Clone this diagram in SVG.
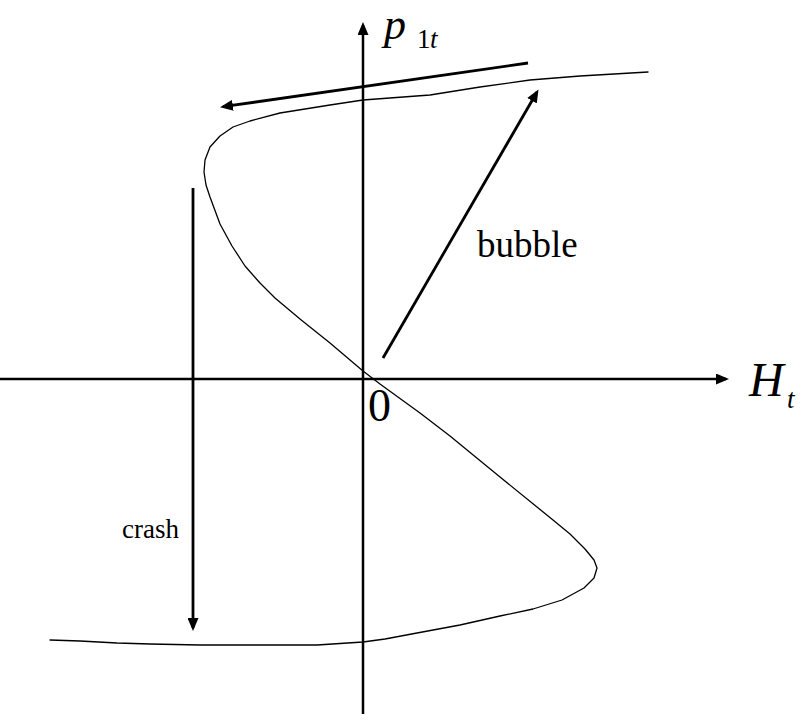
<svg xmlns="http://www.w3.org/2000/svg" width="803" height="720" viewBox="0 0 803 720">
  <style>
    .ax { stroke: #000; stroke-width: 2.5; fill: none; }
    .arr { stroke: #000; stroke-width: 2.8; fill: none; }
    .curve { stroke: #000; stroke-width: 1.3; fill: none; stroke-linejoin: round; stroke-linecap: round; }
  </style>
  <defs>
    <marker id="head" markerUnits="userSpaceOnUse" markerWidth="13" markerHeight="11" refX="10" refY="5.5" orient="auto">
      <path d="M0,0 L13,5.5 L0,11 z" fill="#000"/>
    </marker>
  </defs>
  <rect width="803" height="720" fill="#fff"/>

  <g id="axes">
    <line class="ax" x1="0" y1="379" x2="726" y2="379" marker-end="url(#head)"/>
    <line class="ax" x1="363" y1="714" x2="363" y2="25" marker-end="url(#head)"/>
  </g>

  <g id="curve">
    <path class="curve" d="M648,72 L580,76 L530,80 L480,87 L430,95 L363,100 L330,105 L280,113 L250,121 L233,127 L220,136 L210,147 L205,160 L204,172 L206,185 L210,197 L220,224 L232,246 L245,266 L260,283 L275,298 L300,319 L330,343 L350,360 L363,371 L380,384 L420,413 L450,436 L500,477 L553,520 L570,534 L585,549 L594,560 L597,568 L594,578 L584,588 L562,600 L533,609 L500,616 L460,625 L417,633 L385,639 L363,642 L317,645 L260,645 L200,645 L150,644 L117,643 L80,641 L50,640"/>
  </g>

  <g id="connectors">
    <line class="arr" x1="528" y1="63" x2="223" y2="106.7" marker-end="url(#head)"/>
    <line class="arr" x1="383" y1="358" x2="537" y2="92" marker-end="url(#head)"/>
    <line class="arr" x1="193" y1="188" x2="193" y2="628" marker-end="url(#head)"/>
  </g>

  <g id="label-p">
    <text x="384" y="39" font-family="'Liberation Serif', 'DejaVu Serif', serif" font-style="italic" font-size="44">p</text>
    <text x="417" y="48" font-family="'Liberation Serif', 'DejaVu Serif', serif" font-size="27">1</text>
    <text x="430" y="48" font-family="'Liberation Serif', 'DejaVu Serif', serif" font-style="italic" font-size="27">t</text>
  </g>
  <g id="label-H">
    <text x="749" y="396" font-family="'Liberation Serif', 'DejaVu Serif', serif" font-style="italic" font-size="48">H</text>
    <text x="787" y="408" font-family="'Liberation Serif', 'DejaVu Serif', serif" font-style="italic" font-size="27">t</text>
  </g>
  <g id="label-0">
    <text x="368" y="421" font-family="'Liberation Serif', 'DejaVu Serif', serif" font-size="46">0</text>
  </g>
  <g id="label-bubble">
    <text x="477" y="257" font-family="'Liberation Serif', 'DejaVu Serif', serif" font-size="37">bubble</text>
  </g>
  <g id="label-crash">
    <text x="122" y="538" font-family="'Liberation Serif', 'DejaVu Serif', serif" font-size="27">crash</text>
  </g>
</svg>
